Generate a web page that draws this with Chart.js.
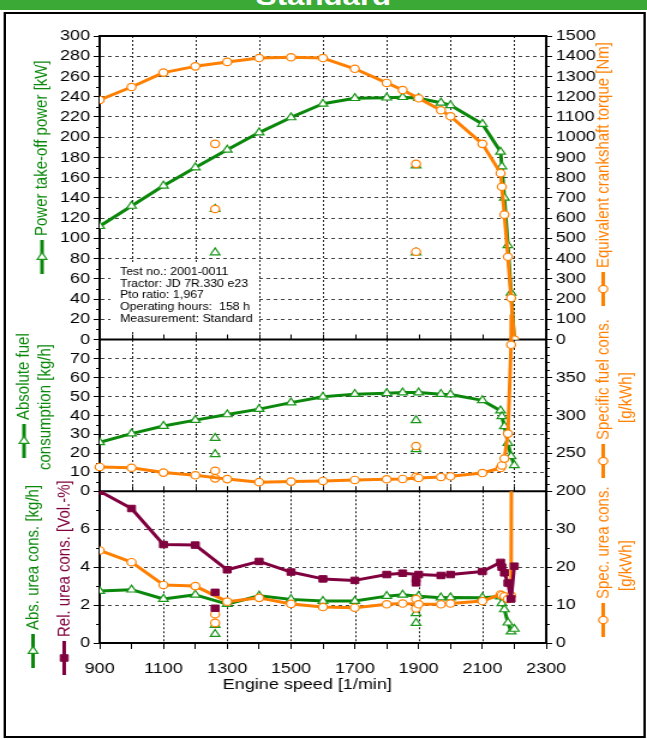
<!DOCTYPE html>
<html>
<head>
<meta charset="utf-8">
<script src="https://cdn.jsdelivr.net/npm/chart.js@4/dist/chart.umd.min.js"></script>
<style>
  html, body { margin: 0; padding: 0; background: #fff; overflow: hidden; }
  #wrap { position: absolute; left: 0; top: 0; width: 539px; height: 740px; transform: scaleX(1.2004); transform-origin: 0 0; }
  #head { position: absolute; left: 0; top: 0; width: 539px; height: 10px; background: #3aa935; overflow: hidden; }
  #head span { position: absolute; left: 0; width: 100%; text-align: center; top: -17px; font: bold 26px/26px "Liberation Sans", Arial, sans-serif; color: #fff; }
  #frame { position: absolute; left: 3px; top: 12px; width: 531px; height: 722px; border: 2px solid #000; }
  canvas { position: absolute; left: 0; top: 0; }
</style>
</head>
<body>
<div id="wrap">
  <div id="head"><span>Standard</span></div>
  <div id="frame"></div>
  <canvas id="myChart" width="539" height="740" style="width:539px;height:740px"></canvas>
</div>
<script>
// full load curve
const rpm       = [900, 1000, 1100, 1200, 1300, 1400, 1500, 1600, 1700, 1800, 1850, 1900, 1970, 2000, 2100, 2157, 2161, 2169, 2180, 2190, 2200];
const power     = [112, 132, 152, 170, 187.5, 204.5, 219.5, 233, 238.5, 239, 239.5, 238.5, 234, 231.5, 213, 185.5, 171, 140, 93, 46, 0];
const torque    = [1184, 1248, 1319, 1350, 1372, 1391, 1395, 1391, 1338, 1268, 1233, 1192, 1133, 1103, 967, 822, 755, 617, 409, 205, 0];
const fuelAbs   = [25.8, 30.4, 34.4, 37.5, 40.5, 43.3, 46.7, 49.8, 51.2, 51.7, 52, 52, 51.2, 51, 47.9, 42.5, 39.5, 34.2, 25.4, 18.4, 13.7];
const fuelSpec  = [232, 231, 224.6, 221, 216, 212, 212.7, 213.6, 214.9, 215.8, 216.2, 217.5, 218.8, 219.7, 224, 230.7, 234, 243, 276, 393, 1000];
const ureaAbs   = [2.74, 2.81, 2.32, 2.54, 2.05, 2.49, 2.30, 2.21, 2.21, 2.47, 2.54, 2.47, 2.39, 2.40, 2.39, 2.45, 2.09, 1.77, 1.07, 0.6, 0.74];
const ureaRel   = [8.0, 7.09, 5.19, 5.16, 3.86, 4.3, 3.74, 3.38, 3.30, 3.61, 3.68, 3.61, 3.56, 3.61, 3.77, 4.25, 4.0, 3.7, 3.16, 2.32, 4.05];
const ureaSpec  = [24.4, 21.3, 15.3, 15.0, 10.9, 11.9, 10.3, 9.47, 9.3, 10.2, 10.4, 10.2, 10.2, 10.4, 11.05, 12.8, 12.6, 12.3, 11.6, 12.5, 300];

// part load points
const partRpm      = [1262, 1262, 1892, 1892];
const partPower    = [129, 86, 172, 86];
const partTorque   = [967, 645, 868, 434];
const partFuelAbs  = [28, 19.5, 37.4, 22.1];
const partFuelSpec = [217, 227, 219, 259.6];
const partUreaAbs  = [0.95, 0.47, 1.56, 1.05];
const partUreaRel  = [2.67, 1.83, 3.38, 3.17];
const partUreaSpec = [7.6, 5.3, 9.1, 11.6];

const infoLines = ['Test no.: 2001-0011', 'Tractor: JD 7R.330 e23', 'Pto ratio: 1,967', 'Operating hours:  158 h', 'Measurement: Standard'];

const GREEN = '#0b880b';
const ORANGE = '#ff8000';
const PURPLE = '#80003f';
const FONT = '"Liberation Sans", Arial, sans-serif';

Chart.defaults.font.family = FONT;
Chart.defaults.color = '#000';

const styles = {
  green:  { borderColor: GREEN, pointStyle: 'triangle', pointRadius: 4.6, pointBackgroundColor: '#fff', pointBorderColor: '#1a961a', pointBorderWidth: 1.2, order: 3 },
  orange: { borderColor: ORANGE, pointStyle: 'circle', pointRadius: 3.7, pointBackgroundColor: '#fff', pointBorderColor: ORANGE, pointBorderWidth: 1.2, order: 2 },
  purple: { borderColor: PURPLE, pointStyle: 'rect', pointRadius: 4.6, pointBackgroundColor: PURPLE, pointBorderColor: PURPLE, pointBorderWidth: 1, order: 1 }
};

const pts = (xs, ys) => xs.map((x, i) => ({ x: x, y: ys[i] }));

function curve(xs, ys, axis, kind, extra) {
  return Object.assign({
    data: pts(xs, ys), yAxisID: axis, borderWidth: 3, tension: 0,
    borderJoinStyle: 'round', showLine: true, fill: false
  }, styles[kind], extra || {});
}
function part(xs, ys, axis, kind) {
  return Object.assign({ data: pts(xs, ys), yAxisID: axis, showLine: false, borderWidth: 0 }, styles[kind]);
}

function leftAxis(min, max, step, w, sw, hideMax) {
  return {
    type: 'linear', position: 'left', stack: 'L', weight: w, stackWeight: sw, min: min, max: max,
    afterFit: s => { s.width = 83; },
    ticks: { stepSize: step, autoSkip: false, padding: 3, font: { size: 15 },
      callback: v => (hideMax && v === max) ? '' : String(v) },
    grid: { color: c => (c.tick && c.tick.value > min && c.tick.value < max) ? '#444' : 'rgba(0,0,0,0)',
      tickColor: '#000', tickLength: 5, lineWidth: 1 },
    border: { color: '#000', width: 2, dash: [3, 3] }
  };
}
function rightAxis(min, max, step, w, sw, hideMax) {
  return {
    type: 'linear', position: 'right', stack: 'R', weight: w, stackWeight: sw, min: min, max: max,
    afterFit: s => { s.width = 84; },
    ticks: { stepSize: step, autoSkip: false, padding: 3, font: { size: 15 },
      callback: v => (hideMax && v === max) ? '' : String(v) },
    grid: { drawOnChartArea: false, tickColor: '#000', tickLength: 5 },
    border: { color: '#000', width: 2 }
  };
}

const MINOR = { yP: 10, yF: 5, yU: 1, tP: 50, tF: 10, tU: 5 };

const titles = [
  { x: 35, y: 274, text: 'Power take-off power [kW]', color: GREEN, sym: 'green' },
  { x: 502.5, y: 306, text: 'Equivalent crankshaft torque [Nm]', color: ORANGE, sym: 'orange' },
  { x: 20, y: 458, text: 'Absolute fuel', color: GREEN, sym: 'green' },
  { x: 37.5, y: 470, text: 'consumption [kg/h]', color: GREEN },
  { x: 502.5, y: 478, text: 'Specific fuel cons.', color: ORANGE, sym: 'orange' },
  { x: 521.7, y: 423, text: '[g/kWh]', color: ORANGE },
  { x: 27.5, y: 668, text: 'Abs. urea cons. [kg/h]', color: GREEN, sym: 'green' },
  { x: 53.5, y: 675, text: 'Rel. urea cons. [Vol.-%]', color: PURPLE, sym: 'purple' },
  { x: 502.5, y: 637, text: 'Spec. urea cons.', color: ORANGE, sym: 'orange' },
  { x: 521.7, y: 591, text: '[g/kWh]', color: ORANGE }
];

const panels = {
  id: 'panels',
  beforeDatasetsDraw(chart) {
    const { ctx, chartArea: a, scales } = chart;
    const xs = scales.x;
    ctx.save();
    // vertical grid: even hundreds in the upper panels, odd ones in the bottom panel
    ctx.strokeStyle = '#222';
    ctx.lineWidth = 1;
    ctx.setLineDash([2, 2]);
    for (let v = 1000; v < 2300; v += 100) {
      const px = Math.round(xs.getPixelForValue(v)) + 0.5;
      ctx.beginPath();
      if ((v / 100) % 2 === 0) {
        ctx.moveTo(px, scales.yP.top); ctx.lineTo(px, scales.yF.bottom);
      } else {
        ctx.moveTo(px, scales.yU.top); ctx.lineTo(px, scales.yU.bottom);
      }
      ctx.stroke();
    }
    ctx.setLineDash([]);

    // info box background
    ctx.fillStyle = '#fff';
    ctx.fillRect(92, 263, 123, 67);

    // minor ticks
    ctx.strokeStyle = '#000';
    ctx.lineWidth = 1;
    for (const id in MINOR) {
      const s = scales[id];
      const st = MINOR[id];
      const major = s.options.ticks.stepSize;
      for (let v = s.min + st; v < s.max - 1e-9; v += st) {
        const r = v / major;
        if (Math.abs(r - Math.round(r)) < 1e-6) continue;
        const py = Math.round(s.getPixelForValue(v)) + 0.5;
        const x0 = s.position === 'left' ? a.left : a.right;
        const d = s.position === 'left' ? -3 : 3;
        ctx.beginPath(); ctx.moveTo(x0, py); ctx.lineTo(x0 + d, py); ctx.stroke();
      }
    }

    // panel ticks on the separators
    for (const id of ['yP', 'yF']) {
      const yb = scales[id].bottom;
      for (let v = 1000; v < 2300; v += 100) {
        const px = Math.round(xs.getPixelForValue(v)) + 0.5;
        ctx.beginPath(); ctx.moveTo(px, yb); ctx.lineTo(px, yb - 5); ctx.stroke();
      }
    }

    // frame and separators
    ctx.lineWidth = 2;
    for (const y of [scales.yP.top, scales.yF.top, scales.yU.top]) {
      ctx.beginPath(); ctx.moveTo(a.left, y); ctx.lineTo(a.right, y); ctx.stroke();
    }
    ctx.restore();
  },
  afterDraw(chart) {
    const ctx = chart.ctx;
    ctx.save();
    // info text
    ctx.fillStyle = '#000';
    ctx.font = '10.3px ' + FONT;
    ctx.textBaseline = 'middle';
    ctx.textAlign = 'left';
    infoLines.forEach((t, i) => ctx.fillText(t, 100, 272 + i * 11.8));

    // x axis title
    ctx.font = '15px ' + FONT;
    ctx.textAlign = 'center';
    ctx.fillText('Engine speed [1/min]', 256, 685);

    // rotated axis titles with series symbol
    for (const t of titles) {
      let y0 = t.y;
      if (t.sym) {
        const st = styles[t.sym];
        ctx.strokeStyle = st.borderColor;
        ctx.lineWidth = 3;
        ctx.beginPath(); ctx.moveTo(t.x, y0); ctx.lineTo(t.x, y0 - 34); ctx.stroke();
        ctx.fillStyle = st.pointBackgroundColor;
        ctx.strokeStyle = st.pointBorderColor;
        ctx.lineWidth = st.pointBorderWidth;
        Chart.helpers.drawPoint(ctx, { pointStyle: st.pointStyle, radius: st.pointRadius, rotation: 0, borderWidth: st.pointBorderWidth }, t.x, y0 - 17);
        y0 -= 38;
      }
      ctx.save();
      ctx.translate(t.x, y0);
      ctx.rotate(-Math.PI / 2);
      ctx.fillStyle = t.color;
      ctx.textAlign = 'left';
      ctx.textBaseline = 'middle';
      ctx.fillText(t.text, 0, 0);
      ctx.restore();
    }
    ctx.restore();
  }
};

const clipUp = { left: 5, right: 5, top: 25, bottom: 5 };

new Chart(document.getElementById('myChart').getContext('2d'), {
  type: 'line',
  data: {
    datasets: [
      curve(rpm, ureaRel, 'yU', 'purple'),
      part(partRpm, partUreaRel, 'yU', 'purple'),
      curve(rpm, ureaSpec, 'tU', 'orange'),
      part(partRpm, partUreaSpec, 'tU', 'orange'),
      curve(rpm, ureaAbs, 'yU', 'green'),
      part(partRpm, partUreaAbs, 'yU', 'green'),
      curve(rpm, fuelSpec, 'tF', 'orange', { clip: clipUp }),
      part(partRpm, partFuelSpec, 'tF', 'orange'),
      curve(rpm, fuelAbs, 'yF', 'green'),
      part(partRpm, partFuelAbs, 'yF', 'green'),
      curve(rpm, torque, 'tP', 'orange'),
      part(partRpm, partTorque, 'tP', 'orange'),
      curve(rpm, power, 'yP', 'green'),
      part(partRpm, partPower, 'yP', 'green')
    ]
  },
  options: {
    responsive: false,
    animation: false,
    devicePixelRatio: 1,
    layout: { padding: { top: 36, bottom: 47, left: 0, right: 0 } },
    scales: {
      x: {
        type: 'linear', position: 'bottom', min: 900, max: 2300,
        afterFit: s => { s.height = 50; },
        ticks: { stepSize: 100, autoSkip: false, maxRotation: 0, padding: 11, font: { size: 15 },
          callback: v => ((v - 900) % 200 === 0) ? String(v) : '' },
        grid: { drawOnChartArea: false, tickColor: '#000', tickLength: 6 },
        border: { color: '#000', width: 2 }
      },
      yP: leftAxis(0, 300, 20, 3, 2, false),
      yF: leftAxis(0, 80, 10, 2, 1, true),
      yU: leftAxis(0, 8, 2, 1, 1, true),
      tP: rightAxis(0, 1500, 100, 1, 2, false),
      tF: rightAxis(200, 400, 50, 2, 1, true),
      tU: rightAxis(0, 40, 10, 3, 1, true)
    },
    plugins: {
      legend: { display: false },
      tooltip: { enabled: false }
    }
  },
  plugins: [panels]
});
</script>
</body>
</html>
